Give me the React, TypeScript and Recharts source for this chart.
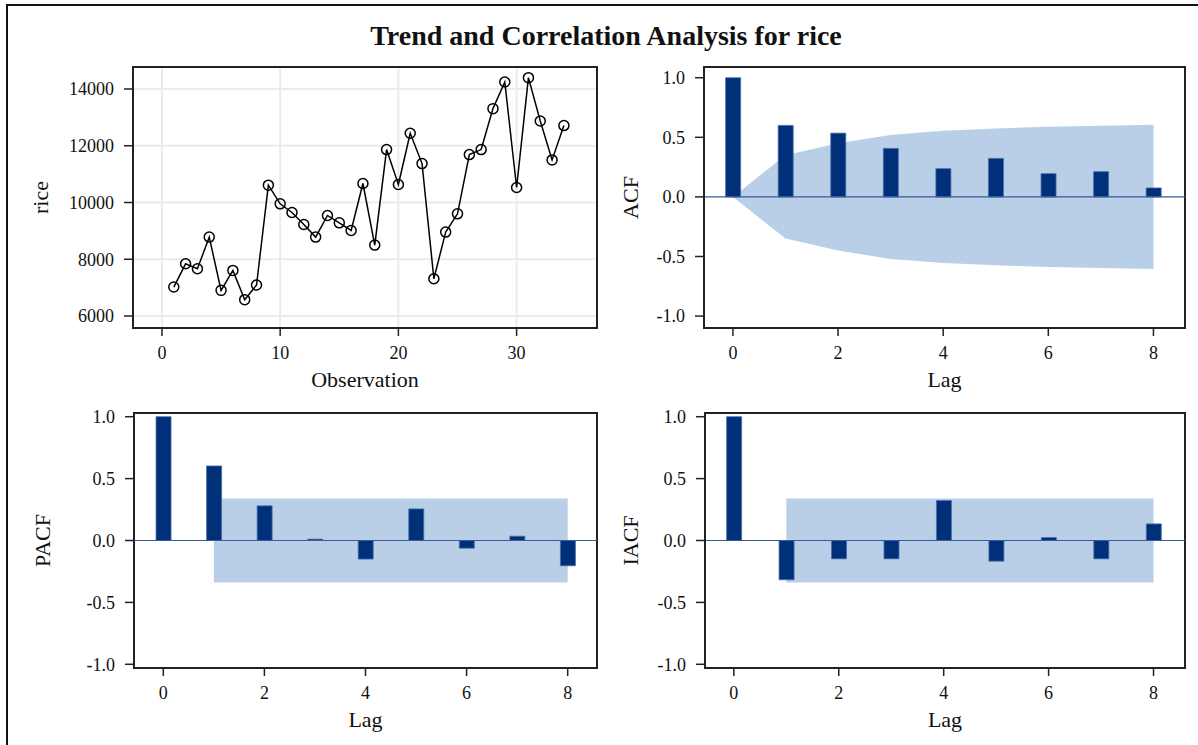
import {
  ComposedChart,
  LineChart,
  Line,
  Bar,
  Area,
  XAxis,
  YAxis,
  CartesianGrid,
  ReferenceLine,
  ReferenceArea,
} from "recharts";

// observation index and rice values
const OBS = [
  1, 2, 3, 4, 5, 6, 7, 8, 9, 10, 11, 12, 13, 14, 15, 16, 17, 18, 19, 20, 21,
  22, 23, 24, 25, 26, 27, 28, 29, 30, 31, 32, 33, 34,
];
const RICE = [
  7020, 7840, 7665, 8780, 6903, 7607, 6575, 7091, 10610, 9953, 9648, 9226,
  8780, 9543, 9284, 9015, 10669, 8498, 11865, 10633, 12440, 11372, 7314, 8956,
  9601, 11689, 11865, 13308, 14246, 10528, 14399, 12874, 11501, 12710,
];
const OBS_TICKS = [0, 10, 20, 30];
const RICE_TICKS = [6000, 8000, 10000, 12000, 14000];

// correlation panels
const LAGS = [0, 1, 2, 3, 4, 5, 6, 7, 8];
const LAG_TICKS = [0, 2, 4, 6, 8];
const CORR_TICKS = [-1, -0.5, 0, 0.5, 1];
const ACF = [1.0, 0.6, 0.535, 0.407, 0.237, 0.323, 0.195, 0.212, 0.075];
const ACF_BAND = [0, 0.35, 0.45, 0.52, 0.555, 0.574, 0.588, 0.596, 0.605];
const PACF = [1.0, 0.602, 0.28, 0.011, -0.15, 0.255, -0.062, 0.035, -0.204];
const IACF = [1.0, -0.317, -0.148, -0.148, 0.323, -0.167, 0.024, -0.148, 0.134];
const WHITE_NOISE_LIMIT = 0.34;

const FONT = "'Liberation Serif', 'Times New Roman', serif";
const BOX = "#222222";
const BAR = "#00307a";
const BAND = "#b9cfe8";

const trendData = OBS.map((obs, i) => ({ obs, rice: RICE[i] }));
const acfData = LAGS.map((lag, i) => ({
  lag,
  value: ACF[i],
  band: [-ACF_BAND[i], ACF_BAND[i]],
}));
const pacfData = LAGS.map((lag, i) => ({
  lag,
  value: PACF[i],
  band: lag >= 1 ? [-WHITE_NOISE_LIMIT, WHITE_NOISE_LIMIT] : null,
}));
const iacfData = LAGS.map((lag, i) => ({
  lag,
  value: IACF[i],
  band: lag >= 1 ? [-WHITE_NOISE_LIMIT, WHITE_NOISE_LIMIT] : null,
}));

const tickStyle = { fill: "#111", fontSize: 18, fontFamily: FONT };

function XTitle(props: any) {
  const vb = props.viewBox || { x: 0, y: 0, width: 0 };
  return (
    <text
      x={vb.x + vb.width / 2}
      y={vb.y + props.gap}
      textAnchor="middle"
      dominantBaseline="central"
      fontSize={22}
      fontFamily={FONT}
      fill="#111"
    >
      {props.text}
    </text>
  );
}

function YTitle(props: any) {
  const vb = props.viewBox || { y: 0, height: 0 };
  const cy = vb.y + vb.height / 2;
  return (
    <text
      transform={`translate(${props.cx}, ${cy}) rotate(-90)`}
      textAnchor="middle"
      dominantBaseline="central"
      fontSize={22}
      fontFamily={FONT}
      fill="#111"
    >
      {props.text}
    </text>
  );
}

interface CorrPanelProps {
  data: { lag: number; value: number; band: number[] | null }[];
  label: string;
  width: number;
  height: number;
  margin: { top: number; right: number; bottom: number; left: number };
  yAxisWidth: number;
  xDomain: [number, number];
  yDomain: [number, number];
  yTitleX: number;
}

function CorrPanel({
  data,
  label,
  width,
  height,
  margin,
  yAxisWidth,
  xDomain,
  yDomain,
  yTitleX,
}: CorrPanelProps) {
  return (
    <ComposedChart width={width} height={height} data={data} margin={margin}>
      <XAxis
        dataKey="lag"
        type="number"
        domain={xDomain}
        ticks={LAG_TICKS}
        allowDataOverflow
        height={60}
        tick={tickStyle}
        tickSize={8}
        tickMargin={10}
        axisLine={{ stroke: BOX, strokeWidth: 2 }}
        tickLine={{ stroke: BOX, strokeWidth: 1.5 }}
        label={<XTitle text="Lag" gap={51} />}
      />
      <YAxis
        type="number"
        domain={yDomain}
        ticks={CORR_TICKS}
        allowDataOverflow
        width={yAxisWidth}
        tick={tickStyle}
        tickSize={9}
        tickMargin={10}
        tickFormatter={(v: number) => v.toFixed(1)}
        axisLine={{ stroke: BOX, strokeWidth: 2 }}
        tickLine={{ stroke: BOX, strokeWidth: 1.5 }}
        label={<YTitle text={label} cx={yTitleX} />}
      />
      <Area
        dataKey="band"
        type="linear"
        fill={BAND}
        fillOpacity={1}
        stroke="none"
        isAnimationActive={false}
        activeDot={false}
      />
      <ReferenceLine y={0} stroke="#3b5a98" strokeWidth={1.2} />
      <Bar
        dataKey="value"
        barSize={15}
        fill={BAR}
        stroke="#4a6ca6"
        strokeWidth={0.8}
        isAnimationActive={false}
      />
      <ReferenceArea
        x1={xDomain[0]}
        x2={xDomain[1]}
        y1={yDomain[0]}
        y2={yDomain[1]}
        fill="none"
        stroke={BOX}
        strokeWidth={2}
        ifOverflow="visible"
      />
    </ComposedChart>
  );
}

export default function App() {
  const trendX: [number, number] = [-2.45, 36.8];
  const trendY: [number, number] = [5577, 14775];

  return (
    <div
      style={{
        position: "absolute",
        left: 0,
        top: 0,
        width: 1198,
        height: 745,
        background: "#fff",
        overflow: "hidden",
        fontFamily: FONT,
      }}
    >
      <style>{`svg text { font-family: ${FONT}; }`}</style>
      {/* frame: top and left rules only */}
      <div style={{ position: "absolute", left: 6, top: 4, width: 1192, height: 2, background: "#111" }} />
      <div style={{ position: "absolute", left: 6, top: 4, width: 2, height: 741, background: "#111" }} />

      <div
        style={{
          position: "absolute",
          left: 0,
          top: 22,
          width: 1212,
          textAlign: "center",
          fontSize: 28,
          lineHeight: "28px",
          fontWeight: "bold",
          color: "#111",
        }}
      >
        Trend and Correlation Analysis for rice
      </div>

      <div style={{ position: "absolute", left: 0, top: 0 }}>
        <LineChart
          width={610}
          height={395}
          data={trendData}
          margin={{ top: 67, right: 13, bottom: 7, left: 0 }}
        >
          <CartesianGrid stroke="#ebebeb" strokeWidth={2} />
          <XAxis
            dataKey="obs"
            type="number"
            domain={trendX}
            ticks={OBS_TICKS}
            allowDataOverflow
            height={60}
            tick={tickStyle}
            tickSize={8}
            tickMargin={10}
            axisLine={{ stroke: BOX, strokeWidth: 2 }}
            tickLine={{ stroke: BOX, strokeWidth: 1.5 }}
            label={<XTitle text="Observation" gap={51} />}
          />
          <YAxis
            type="number"
            domain={trendY}
            ticks={RICE_TICKS}
            allowDataOverflow
            width={133}
            tick={tickStyle}
            tickSize={9}
            tickMargin={10}
            axisLine={{ stroke: BOX, strokeWidth: 2 }}
            tickLine={{ stroke: BOX, strokeWidth: 1.5 }}
            label={<YTitle text="rice" cx={40} />}
          />
          <Line
            dataKey="rice"
            type="linear"
            stroke="#000"
            strokeWidth={1.5}
            dot={{ r: 5, stroke: "#000", strokeWidth: 1.5, fill: "none" }}
            activeDot={false}
            isAnimationActive={false}
          />
          <ReferenceArea
            x1={trendX[0]}
            x2={trendX[1]}
            y1={trendY[0]}
            y2={trendY[1]}
            fill="none"
            stroke={BOX}
            strokeWidth={2}
            ifOverflow="visible"
          />
        </LineChart>
      </div>

      <div style={{ position: "absolute", left: 600, top: 0 }}>
        <CorrPanel
          data={acfData}
          label="ACF"
          width={598}
          height={395}
          margin={{ top: 67, right: 13, bottom: 7, left: 0 }}
          yAxisWidth={104}
          xDomain={[-0.55, 8.6]}
          yDomain={[-1.1, 1.09]}
          yTitleX={30}
        />
      </div>

      <div style={{ position: "absolute", left: 0, top: 390 }}>
        <CorrPanel
          data={pacfData}
          label="PACF"
          width={610}
          height={355}
          margin={{ top: 23, right: 13, bottom: 17, left: 0 }}
          yAxisWidth={134}
          xDomain={[-0.58, 8.58]}
          yDomain={[-1.03, 1.03]}
          yTitleX={42}
        />
      </div>

      <div style={{ position: "absolute", left: 600, top: 390 }}>
        <CorrPanel
          data={iacfData}
          label="IACF"
          width={598}
          height={355}
          margin={{ top: 23, right: 13, bottom: 17, left: 0 }}
          yAxisWidth={105}
          xDomain={[-0.55, 8.6]}
          yDomain={[-1.03, 1.03]}
          yTitleX={30}
        />
      </div>
    </div>
  );
}
